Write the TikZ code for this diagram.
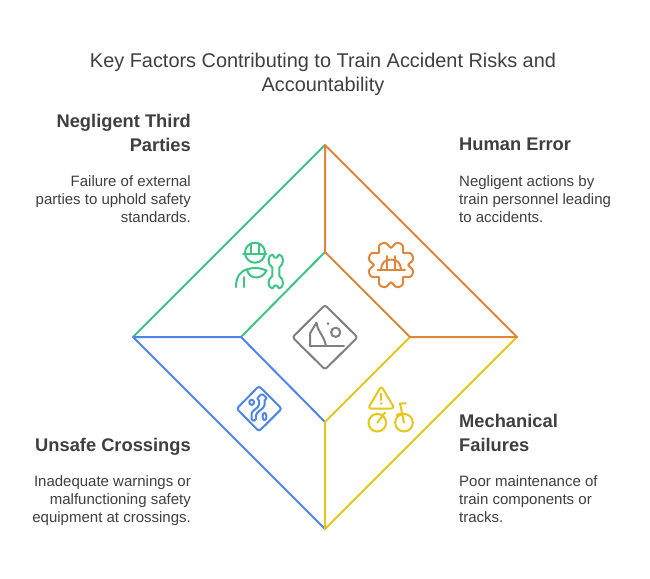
\documentclass[tikz,border=0pt]{standalone}
\usepackage{fontspec}
\setmainfont{Liberation Sans}
\definecolor{cgreen}{HTML}{3CC583}
\definecolor{corange}{HTML}{E0853A}
\definecolor{cyellow}{HTML}{E5C61A}
\definecolor{cblue}{HTML}{4D86E8}
\definecolor{cgrey}{HTML}{808080}
\definecolor{ctext}{HTML}{3F3F3F}
\tikzset{
  edge/.style={line width=2pt,line cap=round,line join=round},
  icon/.style={line width=2pt,line cap=round,line join=round},
  titletext/.style={font=\fontsize{19.9}{24}\selectfont,text=ctext,align=center,inner sep=0pt},
  headl/.style={font=\fontsize{18.3}{24}\selectfont\bfseries,text=ctext,align=left,inner sep=0pt,anchor=north west},
  headr/.style={font=\fontsize{18.3}{24}\selectfont\bfseries,text=ctext,align=right,inner sep=0pt,anchor=north east},
  bodyl/.style={font=\fontsize{15}{18}\selectfont,text=ctext,align=left,inner sep=0pt,anchor=north west},
  bodyr/.style={font=\fontsize{15}{18}\selectfont,text=ctext,align=right,inner sep=0pt,anchor=north east},
}
\begin{document}
\begin{tikzpicture}[x=1pt,y=-1pt]
\useasboundingbox (0,0) rectangle (650,578);
\fill[white] (0,0) rectangle (650,578);
% corners
\coordinate (T) at (325,145);
\coordinate (R) at (517,337);
\coordinate (B) at (325,529);
\coordinate (L) at (133,337);
\coordinate (t) at (325,252);
\coordinate (r) at (410,337);
\coordinate (b) at (325,422);
\coordinate (l) at (241,337);
% quadrants
\draw[edge,cgreen] (L) -- (T) (t) -- (l);
\draw[edge,cblue] (l) -- (L) -- (B) (l) -- (b);
\draw[edge,cyellow] (b) -- (B) -- (R) (b) -- (r);
\draw[edge,corange] (t) -- (T) -- (R) -- (r) -- (t);
% text
\node[titletext] (title) at (323,74.5) {Key Factors Contributing to Train Accident Risks and\\Accountability};
\node[headr] (h1) at (191,114) {Negligent Third\\Parties};
\node[bodyr] (b1) at (191,175.5) {Failure of external\\parties to uphold safety\\standards.};
\node[headl] (h2) at (459,138) {Human Error};
\node[bodyl] (b2) at (459,175.5) {Negligent actions by\\train personnel leading\\to accidents.};
\node[headr] (h3) at (191,438) {Unsafe Crossings};
\node[bodyr] (b3) at (191,475.5) {Inadequate warnings or\\malfunctioning safety\\equipment at crossings.};
\node[headl] (h4) at (459,414) {Mechanical\\Failures};
\node[bodyl] (b4) at (459,475.5) {Poor maintenance of\\train components or\\tracks.};
% centre icon
\begin{scope}[icon,cgrey]
\draw[rounded corners=2.5pt] (325,305) -- (357.5,337.3) -- (325,369.5) -- (292.5,337.3) -- cycle;
\draw (309.5,346) -- (344,346);
\draw (310,346) -- (310,333.5) -- (316.5,322.7) .. controls (317.5,327) and (318,330) .. (320.5,333) .. controls (323,337) and (325,341) .. (326,346);
\draw (335.7,332.3) circle (4.6);
\fill (328,323.7) circle (1.5);
\end{scope}
% green worker
\begin{scope}[icon,cgreen]
\draw (255,252.7) circle (10);
\draw (243,254) -- (266.5,254);
\draw (251,243.5) -- (251,254) (259,243.5) -- (259,254);
\draw (236,287) .. controls (236,277) and (240,271) .. (248,269);
\draw (247,269.5) .. controls (249,280) and (262,280) .. (266.5,270.5);
\draw (248,269) .. controls (254,267) and (261,268) .. (266.5,270.5);
\draw (244,287) -- (244,277);
\draw (272.5,254.5) .. controls (267.5,255) and (267,264.5) .. (272.3,267.5) -- (272.3,276) .. controls (267,279) and (267.5,288) .. (272.5,288.5)
  -- (274.5,285.5) -- (277,285.5) -- (279,288.5) .. controls (284,288) and (284.5,279) .. (279.3,276) -- (279.3,267.5) .. controls (284.5,264.5) and (284,255) .. (279,254.5)
  -- (277,257.5) -- (274.5,257.5) -- cycle;
\end{scope}
% orange gear
\begin{scope}[icon,corange]
\draw plot[domain=0:360,samples=181,smooth] ({391+(21+3*cos(8*(\x-22.5))-0.7*cos(16*(\x-22.5)))*cos(\x)},{265+(21+3*cos(8*(\x-22.5))-0.7*cos(16*(\x-22.5)))*sin(\x)});
\draw (377.5,270) -- (405,270);
\draw (381,270) .. controls (381,263) and (385,259.5) .. (391,259.5) .. controls (397,259.5) and (401,263) .. (401,270);
\draw (387,256) -- (387,270) (395,256) -- (395,270);
\end{scope}
% yellow bicycle
\begin{scope}[icon,cyellow]
\draw[rounded corners=3pt] (381.3,386) -- (394.5,408.5) -- (368,408.5) -- cycle;
\draw (381.3,393.5) -- (381.3,400);
\fill (381.3,403.5) circle (1.4);
\draw (377.3,422.7) circle (8.8);
\draw (404,422.7) circle (8.8);
\draw (377.3,422.7) -- (385,412.7);
\draw (404,422.7) -- (400,403.3) -- (405.7,403.3);
\draw (396.7,415) -- (401.7,413.5);
\end{scope}
% blue road sign
\begin{scope}[icon,cblue]
\draw[rounded corners=2.5pt] (259,386) -- (281.7,408.7) -- (259,431.3) -- (236.7,408.7) -- cycle;
\draw[rounded corners=1.5pt] (251.5,420.5) -- (251.5,412.5) -- (259,406) -- (259,399) -- (256.5,399) -- (262,393.5) -- (267.5,399) -- (264.5,399) -- (264.5,406.5) -- (256,414) -- (256,420.5) -- cycle;
\draw (251.7,402.3) ellipse (2.4 and 2.6);
\draw (264.5,416.5) ellipse (2 and 3.6);
\end{scope}
\end{tikzpicture}
\end{document}
